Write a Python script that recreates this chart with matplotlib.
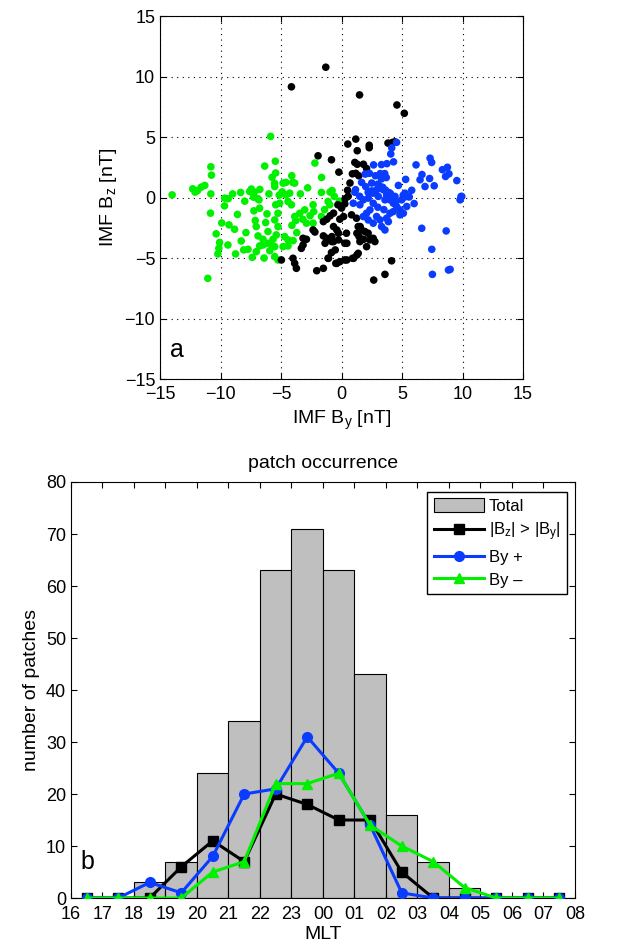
import numpy as np
import matplotlib
matplotlib.use('Agg')
import matplotlib.pyplot as plt

plt.rcParams['font.family'] = ['Liberation Sans', 'DejaVu Sans']
plt.rcParams['mathtext.default'] = 'regular'

# panel a: IMF By / Bz of each patch, split in three groups
green_by = [-14.0, -12.3, -12.1, -11.9, -11.6, -11.3, -10.8, -10.75, -10.8, -9.65, -9.37, -8.34,
            -7.45, -7.2, -7.27, -6.9, -6.75, -6.35, -5.86, -5.47, -5.44, -5.74, -5.53, -4.9, -5.15,
            -4.6, -4.03, -4.11, -2.2, -1.65, -0.95, -0.78, -0.17, -10.83, -9.67, -9.3, -8.84, -10.36,
            -10.08, -10.14, -10.22, -9.39, -8.76, -8.29, -8.09, -7.73, -11.05, -6.82, -7.24, -6.77,
            -6.16, -7.13, -6.27, -7.05, -6.08, -6.9, -6.49, -6.2, -6.77, -7.04, -7.38, -5.93, -5.52,
            -5.66, -5.39, -5.25, -5.52, -5.25, -5.44, -5.11, -4.42, -4.14, -3.87, -3.78, -3.45, -3.04,
            -2.9, -2.35, -2.35, -2.3, -1.66, -1.11, -0.97, -1.66, -4.7, -4.42, -4.0, -4.83, -4.42,
            -5.52, -5.25, -6.49, -5.93, -4.61, -4.28, -4.83, -3.87, -5.52, -7.6, -7.9, -8.6, -9.9,
            -6.4, -4.1, -3.2, -2.6, -1.4, -0.6, -2.8, -3.4, -6.0, -8.0, -9.0, -3.7]
green_bz = [0.22, 0.72, 0.45, 0.58, 0.86, 1.0, 2.54, 1.85, 0.3, -0.05, -0.1, 0.42,
            0.7, 0.45, 0.03, -0.1, 0.67, 2.6, 5.05, 3.0, 2.03, 1.67, 1.17, 0.47, 0.2,
            1.25, 1.25, 1.8, 2.85, 1.66, 0.45, 0.58, -0.3, -1.29, -0.69, -2.26, -2.62, -3.0,
            -3.72, -4.2, -4.66, -3.92, -4.66, -3.59, -4.33, -4.28, -6.68, -0.19, -1.1, -0.88,
            -1.35, -1.9, -2.07, -2.4, -2.81, -3.17, -3.45, -3.78, -4.0, -4.47, -4.94, -4.39, -4.06,
            -3.45, -3.09, -2.4, -1.85, -1.3, -0.6, -0.47, -0.33, -0.6, -1.57, -1.9, -1.3, -1.02,
            -2.12, -0.6, -2.12, -1.16, -1.57, -0.33, -0.6, 0.42, -3.23, -3.5, -3.56, -4.06, -4.0,
            -4.88, -5.16, -3.92, -3.78, 0.22, 0.36, 1.19, 1.19, 0.91, 0.5, -2.9, -1.4, -2.1,
            -5.0, -2.3, -1.8, -1.5, -1.0, 0.1, 0.8, 0.3, 0.3, -0.3, 0.3, -2.9]

black_by = [-1.3, -4.14, 1.49, 4.58, 5.19, 1.18, 0.52, 1.3, 2.29, 2.29, 3.84, 4.2, 4.4, -1.94,
            -0.83, -0.22, 1.1, 1.3, 1.81, 0.9, 1.18, 1.43, 2.07, 0.27, 0.0, -0.66, -0.94, -1.22,
            -1.5, -0.14, 0.83, 1.24, 1.38, 1.65, 1.93, 2.2, 2.62, 2.76, 2.07, 1.38, 0.91, 0.27,
            -0.14, -0.47, -1.11, -0.83, -1.5, -2.05, -0.66, -0.39, -0.25, -0.8, -0.66, -1.22, -1.5,
            0.41, 0.27, -2.35, -2.2, -3.18, -2.9, -3.18, -3.32, -4.97, -4.01, -3.87, -3.73, 4.14,
            3.59, 2.66, 1.52, 1.45, 1.83, 2.34, 0.55, 0.3, 0.17, 1.27, 1.54, -0.25, -0.8, -1.36,
            -0.52, -1.08, -0.39, 0.44, 1.0, 1.27, 0.44, 0.7, 0.5, -0.3]
black_bz = [10.77, 9.15, 8.48, 7.65, 6.96, 4.83, 4.42, 3.87, 4.32, 4.12, 4.5, 4.55, 4.6, 3.45,
            3.12, 2.1, 2.9, 2.75, 2.75, 1.96, 2.0, 1.8, 2.4, -0.52, -0.87, -1.29, -1.51, -1.79,
            -1.99, -1.79, -1.43, -1.71, -2.4, -2.68, -2.81, -2.95, -3.37, -3.64, -4.06, -4.61, -5.02, -5.16,
            -5.3, -5.44, -5.02, -4.55, -5.85, -6.05, -2.4, -2.68, -2.95, -3.23, -3.64, -3.37, -3.17,
            -2.95, -3.78, -2.68, -2.85, -3.37, -3.45, -3.92, -4.2, -5.16, -5.02, -5.44, -5.85, -5.23,
            -6.35, -6.82, -3.64, -3.23, -3.45, -3.5, 0.1, -0.1, -1.57, -2.95, -2.4, -3.5, -3.64, -3.78,
            -4.33, -5.02, -5.44, -5.16, -5.02, -4.75, -3.78, 1.2, 0.6, -0.6]

blue_by = [4.55, 4.15, 4.07, 4.3, 2.65, 3.3, 3.75, 6.16, 7.32, 7.45, 6.65, 7.28, 7.66, 8.34, 8.75,
           8.88, 8.6, 9.53, 9.88, 1.66, 1.16, 1.1, 1.96, 2.3, 2.8, 3.2, 3.57, 3.3, 3.7, 3.0, 3.4,
           3.63, 3.9, 2.5, 2.2, 4.05, 5.1, 5.25, 5.6, 0.97, 1.52, 1.8, 2.21, 2.62, 2.9, 3.18, 3.45,
           3.73, 4.0, 4.28, 4.56, 4.83, 5.11, 5.39, 5.52, 5.25, 4.97, 4.42, 4.0, 3.59, 3.04, 2.62,
           2.35, 2.07, 1.8, 2.21, 2.62, 3.18, 3.73, 4.0, 4.28, 3.31, 3.59, 3.87, 2.9, 4.83, 6.63,
           8.65, 7.46, 7.51, 8.84, 8.98, 9.8, 9.94, 6.9, 6.49, 4.7, 5.3, 2.0, 1.5, 3.0, 3.5, 4.5,
           5.8, 6.0, 2.5]
blue_bz = [4.56, 4.1, 3.6, 2.95, 2.7, 2.72, 2.8, 2.7, 3.25, 2.9, 1.9, 1.57, 0.97, 2.3, 2.5,
           1.96, 1.74, 1.4, 0.09, 1.25, 0.65, 0.44, 1.94, 2.0, 1.8, 1.98, 1.98, 1.54, 1.65, 1.1, 0.85,
           0.62, 0.42, 0.55, 0.43, 0.3, 0.2, 0.05, 0.05, -0.47, -0.6, -0.19, -0.05, 0.36, 0.64, 0.91, 0.64,
           0.22, -0.19, -0.47, -0.74, -1.02, -1.3, -0.74, 0.09, 0.36, -0.19, 0.09, 0.36, -0.19, 0.09, -0.47,
           -1.02, -1.3, -1.57, -1.85, -2.12, -1.85, -1.71, -1.3, -1.16, -2.4, -2.68, -1.99, -1.57, -1.43, -2.54,
           -2.76, -4.28, -6.35, -5.99, -5.94, -0.19, 0.09, 0.91, 1.47, 1.0, 1.5, 0.9, 0.1, -0.8, -1.0, -0.3,
           0.6, -0.5, 1.2]

# panel b: patch counts per MLT hour bin (bins start at 16 MLT)
mlt_start = np.arange(16, 32)
total = [0, 0, 3, 7, 24, 34, 63, 71, 63, 43, 16, 7, 2, 0, 0, 0]
bz_dom = [0, 0, 0, 6, 11, 7, 20, 18, 15, 15, 5, 0, 0, 0, 0, 0]
by_pos = [0, 0, 3, 1, 8, 20, 21, 31, 24, 14, 1, 0, 0, 0, 0, 0]
by_neg = [0, 0, 0, 0, 5, 7, 22, 22, 24, 14, 10, 7, 2, 0, 0, 0]
mlt_labels = ['16', '17', '18', '19', '20', '21', '22', '23', '00', '01', '02', '03', '04',
              '05', '06', '07', '08']

blue = '#0a3cff'
green = '#00f000'

fig = plt.figure(figsize=(6.21, 9.49), dpi=100)

# ---- panel a
ax1 = fig.add_axes([0.2577, 0.6006, 0.5845, 0.3825])
ax1.scatter(green_by, green_bz, s=30, c=green, edgecolors='none', zorder=3)
ax1.scatter(black_by, black_bz, s=30, c='k', edgecolors='none', zorder=3)
ax1.scatter(blue_by, blue_bz, s=30, c=blue, edgecolors='none', zorder=3)
ax1.set_xlim(-15, 15)
ax1.set_ylim(-15, 15)
ax1.set_xticks(np.arange(-15, 16, 5))
ax1.set_yticks(np.arange(-15, 16, 5))
ax1.grid(True, color='k', linestyle=(0, (1, 4)), linewidth=0.8)
ax1.tick_params(direction='in', top=True, right=True, labelsize=13, length=4)
ax1.tick_params(axis='x', pad=5)
ax1.set_xlabel('IMF B$_y$ [nT]', fontsize=14)
ax1.set_ylabel('IMF B$_z$ [nT]', fontsize=14)
ax1.text(-14.2, -12.6, 'a', fontsize=18, va='center', ha='left')

# ---- panel b
ax2 = fig.add_axes([0.1143, 0.0537, 0.8116, 0.4384])
ax2.bar(mlt_start, total, width=1.0, align='edge', color='#bfbfbf', edgecolor='k',
        linewidth=0.8, label='Total', zorder=1)
centers = mlt_start + 0.5
ax2.plot(centers, bz_dom, '-s', color='k', lw=2.2, ms=6.5, label='|B$_z$| > |B$_y$|', zorder=3)
ax2.plot(centers, by_pos, '-o', color=blue, lw=2.2, ms=7, label='By +', zorder=4)
ax2.plot(centers, by_neg, '-^', color=green, lw=2.2, ms=7.5, label='By \u2013', zorder=5)
ax2.set_xlim(16, 32)
ax2.set_ylim(0, 80)
ax2.set_xticks(np.arange(16, 33))
ax2.set_xticklabels(mlt_labels)
ax2.set_yticks(np.arange(0, 81, 10))
ax2.tick_params(direction='in', top=True, right=True, labelsize=13, length=4)
ax2.tick_params(axis='x', pad=6)
ax2.set_xlabel('MLT', fontsize=14, labelpad=2)
ax2.set_ylabel('number of patches', fontsize=14)
ax2.set_title('patch occurrence', fontsize=14, pad=10)
ax2.text(16.3, 7, 'b', fontsize=18, va='center', ha='left')

handles, labels = ax2.get_legend_handles_labels()
order = [labels.index('Total')] + [i for i, lab in enumerate(labels) if lab != 'Total']
leg = ax2.legend([handles[i] for i in order], [labels[i] for i in order],
                 loc='upper right', bbox_to_anchor=(0.985, 0.977), borderaxespad=0,
                 fancybox=False, edgecolor='k', fontsize=12, handlelength=3,
                 handleheight=0.9, labelspacing=0.4, borderpad=0.4, handletextpad=0.3,
                 framealpha=1)
leg.get_frame().set_linewidth(1.0)

fig.savefig('out.png', dpi=100)
